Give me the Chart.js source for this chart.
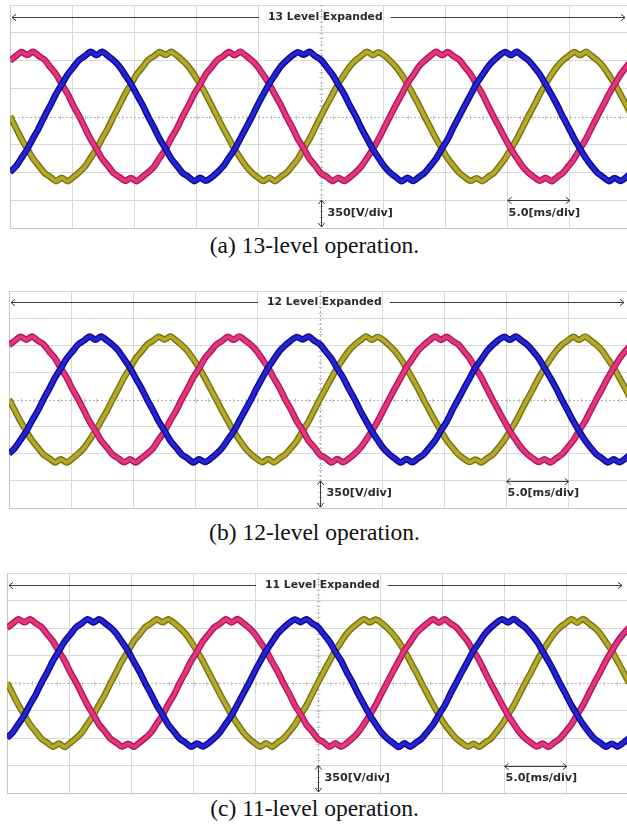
<!DOCTYPE html>
<html>
<head>
<meta charset="utf-8">
<title>Multilevel inverter output voltages</title>
<script src="https://cdn.jsdelivr.net/npm/chart.js@4.4.1/dist/chart.umd.min.js"></script>
<style>
  html, body { margin: 0; padding: 0; background: #fff; overflow: hidden; }
  body { width: 627px; height: 828px; position: relative; }
  canvas { position: absolute; }
  .caption {
    position: absolute; left: 0; width: 627px; text-align: center;
    font-family: "Liberation Serif", "Times New Roman", serif;
    font-size: 23.5px; line-height: 24px; color: #111;
  }
</style>
</head>
<body>
<canvas id="scopeA" width="626" height="227" style="left:8px; top:3px"></canvas>
<div class="caption" style="top:233px; left:1px">(a) 13-level operation.</div>
<canvas id="scopeB" width="626" height="221" style="left:7px; top:289px"></canvas>
<div class="caption" style="top:520px; left:1px">(b) 12-level operation.</div>
<canvas id="scopeC" width="626" height="224" style="left:5px; top:571px"></canvas>
<div class="caption" style="top:796px; left:1px">(c) 11-level operation.</div>
<script>
// scope settings
const voltsPerDiv = 350;
const msPerDiv = 5;
const timeStepMs = 0.46296;   // sample spacing of the traces, starting at -25 ms

const levelLabels = ['13 Level Expanded', '12 Level Expanded', '11 Level Expanded'];
const canvasIds = ['scopeA', 'scopeB', 'scopeC'];

// phase voltages [V], one sample every timeStepMs
const phaseMagenta = [
  700, 758, 810, 772, 812, 760, 712, 618, 530, 402, 285, 136, 6, -140, -285, -402, -530, -618,
  -712, -760, -810, -772, -812, -758, -700, -630, -518, -412, -272, -148, 4, 138, 284, 400, 530, 620,
  708, 756, 810, 770, 814, 762, 704, 626, 520, 410, 274, 146, -4, -136, -286, -400, -532, -616,
  -714, -756, -812, -768, -810, -764, -702, -626, -522, -406, -282, -138, 2, 144, 276, 412, 518, 628,
  700, 762, 812, 768, 810, 758, 710, 620, 528, 404, 286, 138, -6, -142, -280, -410, -522, -628,
  -704, -762, -808, -770, -814, -760, -708, -620, -526, -404, -284, -140, 4, 140, 282, 406, 526, 622,
  706
];
const phaseBlue = [
  -700, -628, -520, -410, -274, -146, 4, 138, 284, 404, 528, 618, 710, 760, 812, 770, 812, 762,
  704, 628, 520, 410, 276, 146, -2, -138, -284, -402, -530, -620, -710, -758, -812, -770, -808, -764,
  -702, -626, -518, -412, -276, -140, -4, 144, 280, 410, 520, 628, 702, 764, 808, 774, 812, 758,
  712, 620, 526, 400, 284, 138, 6, -144, -278, -410, -522, -628, -704, -762, -814, -768, -810, -760,
  -708, -620, -528, -402, -286, -136, 2, 142, 276, 412, 518, 626, 704, 768, 810, 770, 814, 760,
  706, 622, 528, 404, 278, 144, -4, -140, -282, -406, -524, -622, -708, -760, -812, -772, -810, -762,
  -704
];
const phaseOlive = [
  4, -140, -282, -404, -528, -620, -710, -760, -812, -770, -814, -762, -702, -628, -520, -410, -276, -146,
  2, 140, 284, 402, 530, 618, 710, 758, 810, 772, 812, 764, 702, 626, 522, 406, 280, 138,
  -4, -144, -276, -410, -520, -626, -704, -764, -810, -768, -812, -758, -708, -622, -530, -402, -284, -138,
  6, 144, 278, 410, 522, 628, 704, 762, 812, 770, 808, 766, 700, 624, 526, 408, 276, 142,
  -2, -142, -280, -406, -526, -620, -706, -764, -808, -774, -812, -760, -710, -622, -524, -404, -282, -140,
  4, 138, 282, 406, 524, 626, 706, 760, 810, 768, 814, 762, 704, 628, 520, 410, 278, 144,
  -2
];

function toPoints(values) {
  return values.map((v, i) => ({ x: -5 * msPerDiv + i * timeStepMs, y: v }));
}

// each trace = dark edge underneath + lighter core on top
function traceSets(values, core, edge, order) {
  const pts = toPoints(values);
  const common = { data: pts, pointRadius: 0, tension: 0.25, fill: false };
  return [
    Object.assign({ borderColor: core, borderWidth: 3.6, order: order }, common),
    Object.assign({ borderColor: edge, borderWidth: 6.5, order: order + 1 }, common)
  ];
}

function arrowHead(ctx, x, y, dx, dy) {
  // small open arrow head pointing along (dx, dy)
  const s = 4;
  ctx.beginPath();
  ctx.moveTo(x - dx * s - dy * s * 0.8, y - dy * s - dx * s * 0.8);
  ctx.lineTo(x, y);
  ctx.lineTo(x - dx * s + dy * s * 0.8, y - dy * s + dx * s * 0.8);
  ctx.stroke();
}

const scopeMarks = {
  id: 'scopeMarks',
  beforeDatasetsDraw(chart) {
    const { ctx, chartArea: a, scales: { x, y } } = chart;
    const x0 = Math.round(x.getPixelForValue(0)) + 0.5;
    const y0 = Math.round(y.getPixelForValue(0)) + 0.5;
    const dx = (x.getPixelForValue(msPerDiv) - x.getPixelForValue(0)) / 5;
    const dy = (y.getPixelForValue(0) - y.getPixelForValue(voltsPerDiv)) / 5;
    ctx.save();
    ctx.strokeStyle = '#b4b4b4';
    ctx.lineWidth = 1;
    ctx.setLineDash([2, 2]);
    ctx.beginPath();
    ctx.moveTo(a.left, y0); ctx.lineTo(a.right, y0);
    ctx.moveTo(x0, a.top); ctx.lineTo(x0, a.bottom);
    ctx.stroke();
    ctx.setLineDash([]);
    ctx.strokeStyle = '#c4c4c4';
    ctx.beginPath();
    for (let px = a.left; px <= a.right; px += dx) {
      ctx.moveTo(Math.round(px) + 0.5, y0 - 2); ctx.lineTo(Math.round(px) + 0.5, y0 + 2);
    }
    for (let py = a.top; py <= a.bottom; py += dy) {
      ctx.moveTo(x0 - 2, Math.round(py) + 0.5); ctx.lineTo(x0 + 2, Math.round(py) + 0.5);
    }
    ctx.stroke();
    ctx.restore();
  },
  afterDatasetsDraw(chart, args, opts) {
    const { ctx, chartArea: a, scales: { x, y } } = chart;
    ctx.save();
    ctx.strokeStyle = '#3a3a3a';
    ctx.fillStyle = '#2a2a2a';
    ctx.lineWidth = 1;
    ctx.font = 'bold 10.8px "DejaVu Sans", Verdana, sans-serif';
    ctx.textBaseline = 'middle';

    // top banner: <---- N Level Expanded ---->
    const yTop = Math.round(y.getPixelForValue(3.58 * voltsPerDiv)) + 0.5;
    const label = opts.label;
    const w = ctx.measureText(label).width;
    const cx = x.getPixelForValue(0.35);
    ctx.textAlign = 'center';
    ctx.fillText(label, cx, yTop);
    ctx.beginPath();
    ctx.moveTo(a.left + 2, yTop); ctx.lineTo(cx - w / 2 - 9, yTop);
    ctx.moveTo(cx + w / 2 + 8, yTop); ctx.lineTo(a.right - 7, yTop);
    ctx.stroke();
    arrowHead(ctx, a.left + 2, yTop, -1, 0);
    arrowHead(ctx, a.right - 7, yTop, 1, 0);

    // vertical scale marker: one division
    ctx.font = 'bold 11.2px "DejaVu Sans", Verdana, sans-serif';
    const xv = Math.round(x.getPixelForValue(0)) + 0.5;
    const yv1 = y.getPixelForValue(-3 * voltsPerDiv);
    const yv2 = y.getPixelForValue(-4 * voltsPerDiv) - 1;
    ctx.beginPath();
    ctx.moveTo(xv, yv1); ctx.lineTo(xv, yv2);
    ctx.stroke();
    arrowHead(ctx, xv, yv1, 0, -1);
    arrowHead(ctx, xv, yv2, 0, 1);
    const yText = y.getPixelForValue(-3.45 * voltsPerDiv);
    ctx.textAlign = 'left';
    ctx.fillText(voltsPerDiv + '[V/div]', xv + 6, yText);

    // horizontal scale marker: one division
    const xh1 = x.getPixelForValue(3 * msPerDiv);
    const xh2 = x.getPixelForValue(4 * msPerDiv);
    const yh = Math.round(y.getPixelForValue(-3 * voltsPerDiv)) + 0.5;
    ctx.beginPath();
    ctx.moveTo(xh1, yh); ctx.lineTo(xh2, yh);
    ctx.stroke();
    arrowHead(ctx, xh1, yh, -1, 0);
    arrowHead(ctx, xh2, yh, 1, 0);
    ctx.fillText(msPerDiv.toFixed(1) + '[ms/div]', xh1 + 1, yText);
    ctx.restore();
  }
};

function makeScope(id, label) {
  const datasets = [].concat(
    traceSets(phaseBlue, '#2424d6', '#0c0c8c', 0),
    traceSets(phaseMagenta, '#e2367f', '#b3185d', 2),
    traceSets(phaseOlive, '#b4aa2a', '#7b7314', 4)
  );
  return new Chart(document.getElementById(id), {
    type: 'line',
    data: { datasets: datasets },
    options: {
      responsive: false,
      animation: false,
      layout: { padding: 2 },
      plugins: { legend: { display: false }, tooltip: { enabled: false }, scopeMarks: { label: label } },
      scales: {
        x: {
          type: 'linear', min: -5 * msPerDiv, max: 5 * msPerDiv,
          ticks: { display: false, stepSize: msPerDiv },
          grid: { drawTicks: false, color: ctx => ctx.tick && ctx.tick.value === 0 ? 'rgba(0,0,0,0)' : '#d9d9d9' },
          border: { display: true, color: '#c6c6c6' }
        },
        y: {
          min: -4 * voltsPerDiv, max: 4 * voltsPerDiv,
          ticks: { display: false, stepSize: voltsPerDiv },
          grid: { drawTicks: false, color: ctx => ctx.tick && ctx.tick.value === 0 ? 'rgba(0,0,0,0)' : '#d9d9d9' },
          border: { display: true, color: '#c6c6c6' }
        }
      }
    },
    plugins: [scopeMarks]
  });
}

canvasIds.forEach((id, i) => makeScope(id, levelLabels[i]));
</script>
</body>
</html>
